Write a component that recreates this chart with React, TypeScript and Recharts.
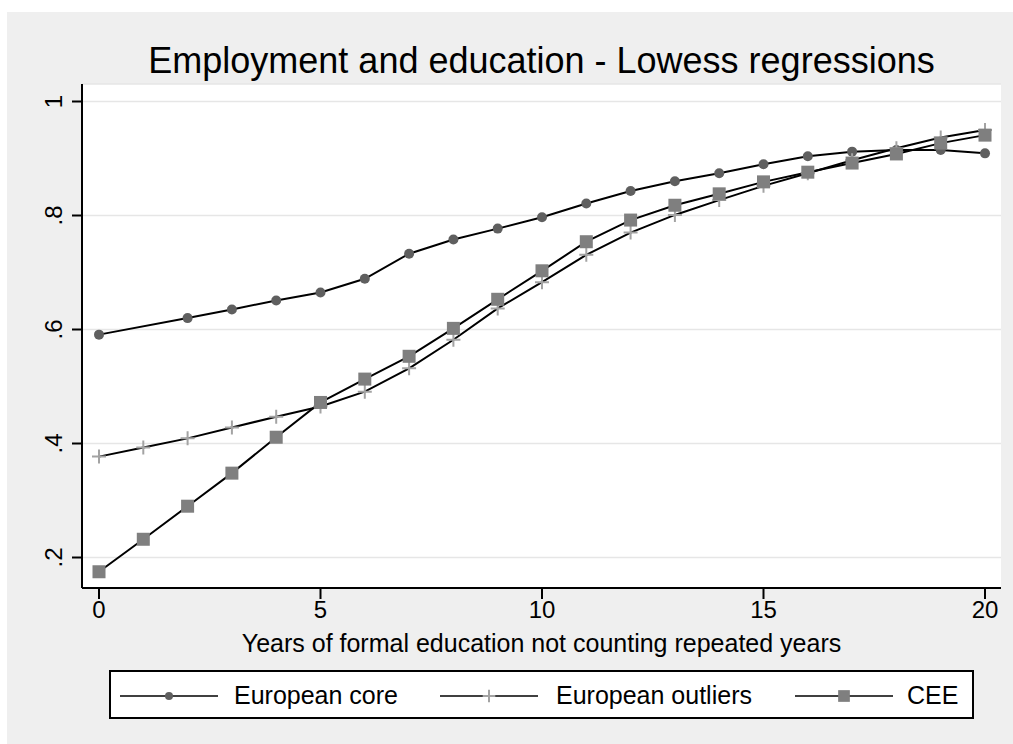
import { CartesianGrid, Label, Line, LineChart, XAxis, YAxis } from "recharts";

const YEARS = [0, 1, 2, 3, 4, 5, 6, 7, 8, 9, 10, 11, 12, 13, 14, 15, 16, 17, 18, 19, 20];
// core has no observation at 1 year
const EUROPEAN_CORE = [
  0.591, null, 0.62, 0.635, 0.651, 0.665, 0.689, 0.733, 0.758, 0.777, 0.797,
  0.821, 0.843, 0.86, 0.874, 0.89, 0.904, 0.912, 0.915, 0.915, 0.909,
];
const EUROPEAN_OUTLIERS = [
  0.377, 0.393, 0.409, 0.428, 0.447, 0.465, 0.491, 0.532, 0.582, 0.637, 0.683,
  0.731, 0.77, 0.801, 0.827, 0.852, 0.874, 0.897, 0.918, 0.937, 0.95,
];
const CEE = [
  0.175, 0.232, 0.29, 0.348, 0.411, 0.472, 0.513, 0.553, 0.602, 0.653, 0.703,
  0.754, 0.792, 0.818, 0.838, 0.859, 0.876, 0.892, 0.908, 0.927, 0.941,
];
const X_TICKS = [0, 5, 10, 15, 20];
const Y_TICKS = [0.2, 0.4, 0.6, 0.8, 1];
const Y_TICK_LABELS = [".2", ".4", ".6", ".8", "1"];

const TITLE = "Employment and education - Lowess regressions";
const X_TITLE = "Years of formal education not counting repeated years";

const FONT = '"Liberation Sans", Arial, Helvetica, sans-serif';
const W = 1013;
const H = 744;

type MarkerKind = "circle" | "plus" | "square";

const SERIES: { key: string; name: string; marker: MarkerKind }[] = [
  { key: "core", name: "European core", marker: "circle" },
  { key: "outliers", name: "European outliers", marker: "plus" },
  { key: "cee", name: "CEE", marker: "square" },
];

const data = YEARS.map((year, i) => ({
  year,
  core: EUROPEAN_CORE[i],
  outliers: EUROPEAN_OUTLIERS[i],
  cee: CEE[i],
}));

function Marker({ kind, cx, cy, scale = 1 }: { kind: MarkerKind; cx: number; cy: number; scale?: number }) {
  if (kind === "circle") return <circle cx={cx} cy={cy} r={5 * scale} fill="#5f5f5f" />;
  if (kind === "square") {
    const s = 13 * scale;
    return <rect x={cx - s / 2} y={cy - s / 2} width={s} height={s} fill="#7f7f7f" />;
  }
  const a = 7 * scale;
  return (
    <path
      d={`M${cx - a},${cy}H${cx + a}M${cx},${cy - a}V${cy + a}`}
      stroke="#a3a3a3"
      strokeWidth={2}
      fill="none"
    />
  );
}

const renderDot = (kind: MarkerKind) => (props: any) => {
  const { cx, cy, index, value } = props;
  if (value == null || cx == null || cy == null) return <g key={`d-${kind}-${index}`} />;
  return (
    <g key={`d-${kind}-${index}`}>
      <Marker kind={kind} cx={cx} cy={cy} />
    </g>
  );
};

function YTick({ x, y, payload }: any) {
  const i = Y_TICKS.indexOf(payload.value);
  return (
    <text
      x={x}
      y={y}
      transform={`rotate(-90 ${x} ${y})`}
      textAnchor="middle"
      fontFamily={FONT}
      fontSize={24}
      fill="#000"
    >
      {Y_TICK_LABELS[i]}
    </text>
  );
}

function XTick({ x, y, payload }: any) {
  return (
    <text x={x} y={y} dy={17} textAnchor="middle" fontFamily={FONT} fontSize={24} fill="#000">
      {payload.value}
    </text>
  );
}

export default function App() {
  const legendItems = [
    { lineX: 120, textX: 234 },
    { lineX: 440, textX: 556 },
    { lineX: 795, textX: 907 },
  ];
  return (
    <div style={{ position: "relative", width: W, height: H, background: "#fff", overflow: "hidden" }}>
      <style>{"body{margin:0}"}</style>
      <div style={{ position: "absolute", left: 7, top: 12, right: 0, bottom: 0, background: "#efefef" }} />
      <div style={{ position: "absolute", left: 0, top: 0 }}>
        <LineChart width={W} height={H} data={data} margin={{ top: 84, right: 12, bottom: 116, left: 22 }}>
          <CartesianGrid horizontal vertical={false} stroke="#e6e6e6" strokeWidth={1.5} fill="#ffffff" />
          <XAxis
            dataKey="year"
            type="number"
            domain={[0, 20]}
            ticks={X_TICKS}
            padding={{ left: 17, right: 16 }}
            height={40}
            tickSize={11}
            tickMargin={2}
            tickLine={{ stroke: "#000", strokeWidth: 2 }}
            axisLine={{ stroke: "#000", strokeWidth: 2 }}
            tick={<XTick />}
          >
            <Label
              content={({ viewBox }: any) => (
                <text
                  x={viewBox.x + viewBox.width / 2}
                  y={viewBox.y + 64}
                  textAnchor="middle"
                  fontFamily={FONT}
                  fontSize={25}
                  fill="#000"
                >
                  {X_TITLE}
                </text>
              )}
            />
          </XAxis>
          <YAxis
            type="number"
            domain={[0.1465, 1.0307]}
            ticks={Y_TICKS}
            allowDataOverflow
            width={60}
            tickSize={10}
            tickMargin={9.5}
            tickLine={{ stroke: "#000", strokeWidth: 2 }}
            axisLine={{ stroke: "#000", strokeWidth: 2 }}
            tick={<YTick />}
          />
          {SERIES.map((s) => (
            <Line
              key={s.key}
              dataKey={s.key}
              name={s.name}
              type="linear"
              stroke="#000"
              strokeWidth={2}
              connectNulls
              dot={renderDot(s.marker)}
              activeDot={false}
              isAnimationActive={false}
            />
          ))}
        </LineChart>
      </div>
      <svg width={W} height={H} style={{ position: "absolute", left: 0, top: 0, pointerEvents: "none" }}>
        <text x={541.5} y={73} textAnchor="middle" fontFamily={FONT} fontSize={36} fill="#000">
          {TITLE}
        </text>
        <rect x={110} y={671} width={863} height={47} fill="#fff" stroke="#000" strokeWidth={2} />
        {SERIES.map((s, i) => {
          const it = legendItems[i];
          return (
            <g key={s.key}>
              <line x1={it.lineX} x2={it.lineX + 98} y1={696} y2={696} stroke="#000" strokeWidth={1.5} />
              <Marker kind={s.marker} cx={it.lineX + 49} cy={696} scale={s.marker === "circle" ? 0.8 : 0.9} />
              <text x={it.textX} y={704} fontFamily={FONT} fontSize={25} fill="#000">
                {s.name}
              </text>
            </g>
          );
        })}
      </svg>
    </div>
  );
}
